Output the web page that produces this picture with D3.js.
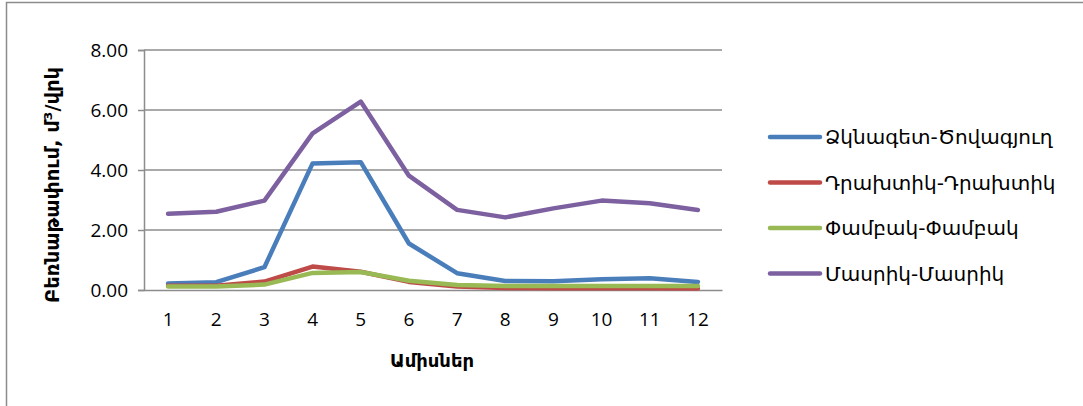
<!DOCTYPE html>
<html>
<head>
<meta charset="utf-8">
<script src="https://cdn.jsdelivr.net/npm/d3@7"></script>
<style>
  html, body { margin: 0; padding: 0; background: #fff; }
  svg { display: block; }
</style>
</head>
<body>
<svg id="chart" width="1083" height="406"></svg>
<script>
// Monthly discharge by gauging station
const months = [1, 2, 3, 4, 5, 6, 7, 8, 9, 10, 11, 12];
const seriesNames = ["Ձկնագետ-Ծովագյուղ", "Դրախտիկ-Դրախտիկ", "Փամբակ-Փամբակ", "Մասրիկ-Մասրիկ"];
const dzknaget = [0.22, 0.26, 0.76, 4.22, 4.26, 1.55, 0.56, 0.30, 0.29, 0.36, 0.39, 0.27];
const drakhtik = [0.14, 0.14, 0.28, 0.78, 0.61, 0.27, 0.12, 0.07, 0.06, 0.06, 0.06, 0.05];
const pambak   = [0.12, 0.12, 0.18, 0.57, 0.60, 0.31, 0.17, 0.13, 0.13, 0.13, 0.13, 0.13];
const masrik   = [2.54, 2.61, 2.98, 5.22, 6.28, 3.81, 2.67, 2.42, 2.72, 2.98, 2.89, 2.67];
const yTicks = [0, 2, 4, 6, 8];
const colors = ["#4a7ebb", "#be4b48", "#98b954", "#7d60a0"];
const yLabel = "Բեռնաթափում, մ³/վրկ";
const xLabel = "Ամիսներ";

const series = [dzknaget, drakhtik, pambak, masrik].map((values, i) => ({
  name: seriesNames[i], values, color: colors[i]
}));

const svg = d3.select("#chart");
const plot = { left: 144, right: 722, top: 50, bottom: 290 };

// outer frame (top and left edges visible)
svg.append("path")
  .attr("d", "M6.5,406 V2.5 H1083")
  .attr("fill", "none").attr("stroke", "#8c8c8c").attr("stroke-width", 1.5);

const x = d3.scaleBand().domain(months).range([plot.left, plot.right]);
const y = d3.scaleLinear().domain([0, 8]).range([plot.bottom, plot.top]);

// horizontal gridlines
svg.append("g").selectAll("line").data(yTicks.filter(d => d > 0)).join("line")
  .attr("x1", plot.left).attr("x2", plot.right)
  .attr("y1", d => y(d)).attr("y2", d => y(d))
  .attr("stroke", "#8c8c8c").attr("stroke-width", 1.5);

const tickFont = "'Open Sans', 'DejaVu Sans', sans-serif";

// y axis
const yAxis = svg.append("g").attr("transform", `translate(${plot.left},0)`)
  .call(d3.axisLeft(y).tickValues(yTicks).tickFormat(d3.format(".2f")).tickSize(6).tickPadding(10));
yAxis.select(".domain").attr("stroke", "#8c8c8c").attr("stroke-width", 1.5);
yAxis.selectAll(".tick line").attr("stroke", "#8c8c8c").attr("stroke-width", 1.5);
yAxis.selectAll("text").attr("font-family", tickFont)
  .attr("font-size", 19).attr("fill", "#000");

// x axis
const xAxis = svg.append("g").attr("transform", `translate(0,${plot.bottom})`)
  .call(d3.axisBottom(x).tickSize(0).tickPadding(23));
xAxis.select(".domain").attr("stroke", "#8c8c8c").attr("stroke-width", 1.5);
xAxis.selectAll("text").attr("font-family", tickFont)
  .attr("font-size", 19).attr("fill", "#000");

// lines
const line = d3.line()
  .x((d, i) => x(months[i]) + x.bandwidth() / 2)
  .y(d => y(d));

svg.append("g").selectAll("path").data(series).join("path")
  .attr("d", d => line(d.values))
  .attr("fill", "none")
  .attr("stroke", d => d.color)
  .attr("stroke-width", 4.5)
  .attr("stroke-linejoin", "round")
  .attr("stroke-linecap", "round");

// axis titles
svg.append("text")
  .attr("transform", `translate(59,${(plot.top + plot.bottom) / 2 + 15}) rotate(-90)`)
  .attr("text-anchor", "middle")
  .attr("font-family", "'DejaVu Sans', sans-serif")
  .attr("font-weight", "bold").attr("font-size", 19.5)
  .text(yLabel);

svg.append("text")
  .attr("x", (plot.left + plot.right) / 2 - 1).attr("y", 367)
  .attr("text-anchor", "middle")
  .attr("font-family", "'DejaVu Sans', sans-serif")
  .attr("font-weight", "bold").attr("font-size", 18)
  .text(xLabel);

// legend
const legend = svg.append("g").selectAll("g").data(series).join("g")
  .attr("transform", (d, i) => `translate(770,${137 + i * 45.5})`);
legend.append("line")
  .attr("x1", 0).attr("x2", 50).attr("y1", 0).attr("y2", 0)
  .attr("stroke", d => d.color).attr("stroke-width", 4.5).attr("stroke-linecap", "round");
legend.append("text")
  .attr("x", 55).attr("y", 7)
  .attr("font-family", "'DejaVu Sans', sans-serif")
  .attr("font-size", 20)
  .text(d => d.name);
</script>
</body>
</html>
